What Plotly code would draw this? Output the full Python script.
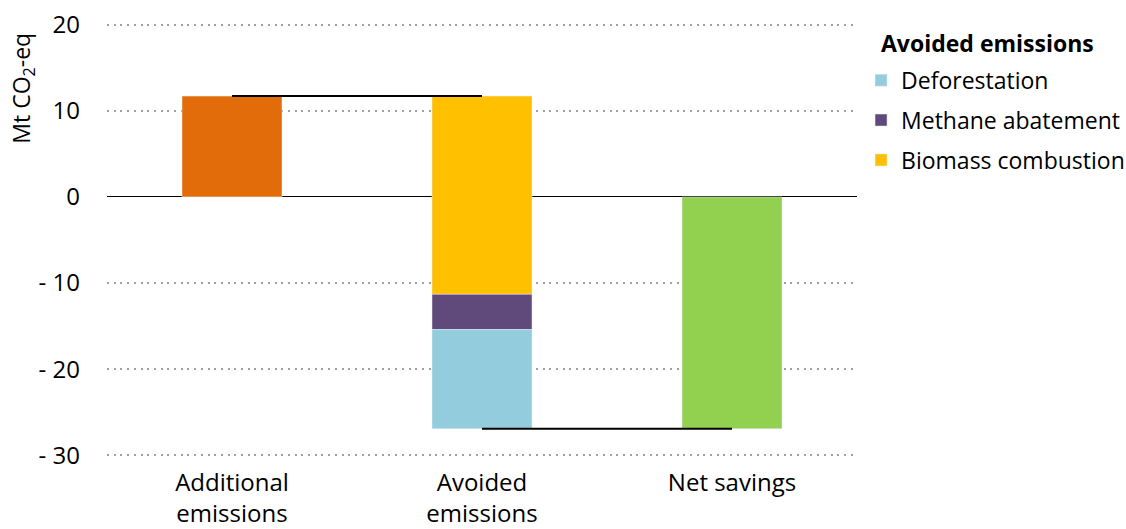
import plotly.graph_objects as go

categories = ["Additional<br>emissions", "Avoided<br>emissions", "Net savings"]
additional = 11.7
avoided_names = ["Biomass combustion", "Methane abatement", "Deforestation"]
avoided_values = [23.0, 4.1, 11.5]
avoided_colors = ["#FFC000", "#604A7B", "#93CDDD"]

y_ticks = [20, 10, 0, -10, -20, -30]
y_tick_text = ["20", "10", "0", "- 10", "- 20", "- 30"]

net = additional - sum(avoided_values)

fig = go.Figure()

fig.add_trace(go.Bar(
    x=[categories[0]], y=[additional],
    marker_color="#E36C0A", width=0.4, showlegend=False
))

# stack avoided emissions downwards from the top of the additional bar
base = additional
for i, (name, val, col) in enumerate(zip(avoided_names, avoided_values, avoided_colors)):
    fig.add_trace(go.Bar(
        x=[categories[1]], y=[-val], base=[base],
        name=name, marker_color=col, width=0.4,
        legendgroup=name, legendrank=3 - i
    ))
    base -= val

fig.add_trace(go.Bar(
    x=[categories[2]], y=[net],
    marker_color="#92D050", width=0.4, showlegend=False
))

# connector lines
fig.add_trace(go.Scatter(
    x=categories[:2], y=[additional, additional], mode="lines",
    line=dict(color="black", width=2), showlegend=False, hoverinfo="skip"
))
fig.add_trace(go.Scatter(
    x=categories[1:], y=[net, net], mode="lines",
    line=dict(color="black", width=2), showlegend=False, hoverinfo="skip"
))

fig.add_annotation(
    text="Mt CO<sub>2</sub>-eq", textangle=-90,
    xref="paper", yref="paper", x=-0.112, y=0.979,
    xanchor="center", yanchor="top", showarrow=False,
    font=dict(size=23)
)

# legend heading
fig.add_annotation(
    text="<b>Avoided emissions</b>",
    xref="paper", yref="paper", x=1.029, y=0.951,
    xanchor="left", yanchor="middle", showarrow=False,
    font=dict(size=23)
)

fig.update_layout(
    width=1126,
    height=529,
    margin=dict(l=107, r=269, t=22, b=71),
    plot_bgcolor="white",
    paper_bgcolor="white",
    barmode="overlay",
    font=dict(family="Open Sans", size=23, color="black"),
    legend=dict(
        xref="container", yref="container",
        x=0.7647, y=0.889, xanchor="left", yanchor="top",
        tracegroupgap=7, itemwidth=30,
        font=dict(size=23)
    )
)

fig.update_xaxes(
    showgrid=False, showline=False, ticks="",
    automargin=False, ticklabelstandoff=8,
    tickfont=dict(size=24)
)

fig.update_yaxes(
    range=[-30.3, 20.3],
    tickvals=y_ticks, ticktext=y_tick_text,
    showgrid=True, gridcolor="#A0A0A0", gridwidth=2, griddash="2px,4.7px",
    zeroline=True, zerolinecolor="black", zerolinewidth=1,
    showline=False, ticks="", ticklabelstandoff=26,
    automargin=False,
    tickfont=dict(size=24)
)

fig.write_html(
    "out.html",
    config={"displayModeBar": False},
    post_script="document.body.style.margin='0';"
)
